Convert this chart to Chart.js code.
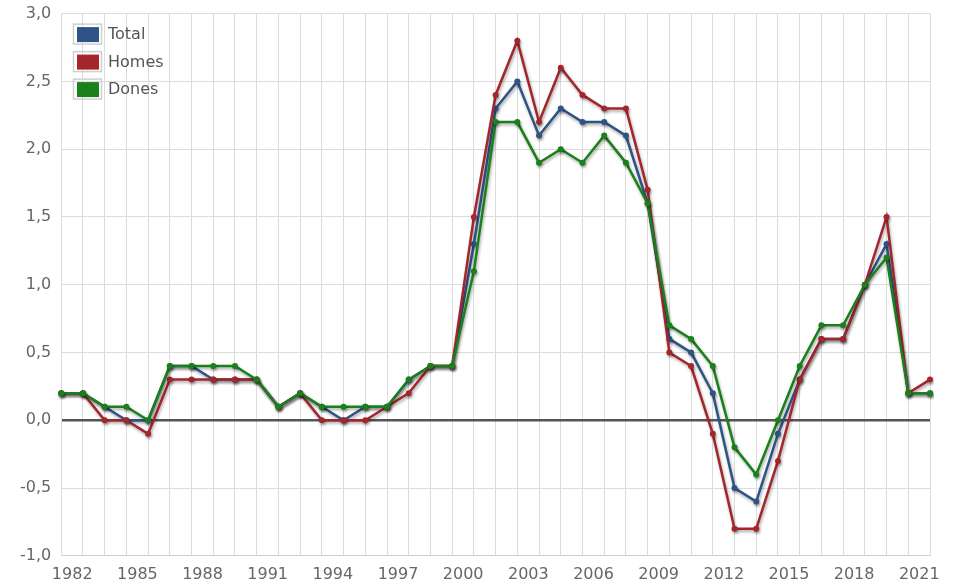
<!DOCTYPE html>
<html>
<head>
<meta charset="utf-8">
<script src="https://cdn.jsdelivr.net/npm/chart.js@4/dist/chart.umd.min.js"></script>
<style>
  html, body { margin: 0; padding: 0; background: #fff; }
  #wrap { width: 959px; height: 584px; position: relative; overflow: hidden; }
  #myChart { position: absolute; left: 0; top: -6px; }
</style>
</head>
<body>
<div id="wrap"><canvas id="myChart" width="959" height="590"></canvas></div>
<script>
const years = [];
for (let y = 1982; y <= 2022; y++) years.push(String(y));

const seriesNames = ["Total", "Homes", "Dones"];
const seriesColors = ["#2e5487", "#a4262c", "#19801a"];

const total = [0.2, 0.2, 0.1, 0.0, 0.0, 0.4, 0.4, 0.3, 0.3, 0.3,
    0.1, 0.2, 0.1, 0.0, 0.1, 0.1, 0.3, 0.4, 0.4, 1.3,
    2.3, 2.5, 2.1, 2.3, 2.2, 2.2, 2.1, 1.6, 0.6, 0.5,
    0.2, -0.5, -0.6, -0.1, 0.3, 0.6, 0.6, 1.0, 1.3, 0.2, 0.2];

const homes = [0.2, 0.2, 0.0, 0.0, -0.1, 0.3, 0.3, 0.3, 0.3, 0.3,
    0.1, 0.2, 0.0, 0.0, 0.0, 0.1, 0.2, 0.4, 0.4, 1.5,
    2.4, 2.8, 2.2, 2.6, 2.4, 2.3, 2.3, 1.7, 0.5, 0.4,
    -0.1, -0.8, -0.8, -0.3, 0.3, 0.6, 0.6, 1.0, 1.5, 0.2, 0.3];

const dones = [0.2, 0.2, 0.1, 0.1, 0.0, 0.4, 0.4, 0.4, 0.4, 0.3,
    0.1, 0.2, 0.1, 0.1, 0.1, 0.1, 0.3, 0.4, 0.4, 1.1,
    2.2, 2.2, 1.9, 2.0, 1.9, 2.1, 1.9, 1.6, 0.7, 0.6,
    0.4, -0.2, -0.4, 0.0, 0.4, 0.7, 0.7, 1.0, 1.2, 0.2, 0.2];

const yMin = -1, yMax = 3, yStep = 0.5;

const FONT = "'DejaVu Sans', Verdana, sans-serif";

function makeSet(i, values, order) {
    return {
        label: seriesNames[i],
        data: values,
        borderColor: seriesColors[i],
        backgroundColor: seriesColors[i],
        pointBackgroundColor: seriesColors[i],
        pointBorderWidth: 0,
        pointRadius: 3,
        borderWidth: 2.5,
        tension: 0,
        fill: false,
        order: order
    };
}

// soft shadow under each line
const shadowPlugin = {
    id: "lineShadow",
    beforeDatasetDraw(chart) {
        const ctx = chart.ctx;
        ctx.save();
        ctx.shadowColor = "rgba(0,0,0,0.35)";
        ctx.shadowBlur = 3;
        ctx.shadowOffsetX = 1;
        ctx.shadowOffsetY = 2;
    },
    afterDatasetDraw(chart) {
        chart.ctx.restore();
    }
};

// legend drawn inside the plot, top-left of the chart area
const boxLegend = {
    id: "boxLegend",
    afterDraw(chart) {
        const ctx = chart.ctx;
        const top = chart.chartArea.top;
        ctx.save();
        ctx.font = "16px " + FONT;
        ctx.textBaseline = "middle";
        seriesNames.forEach((name, i) => {
            const cy = top + 20.5 + i * 27.5;
            ctx.strokeStyle = "#cfcfcf";
            ctx.lineWidth = 1.5;
            ctx.strokeRect(73.5, cy - 10, 28, 20);
            ctx.fillStyle = seriesColors[i];
            ctx.fillRect(77, cy - 7, 22, 15);
            ctx.fillStyle = "#555";
            ctx.fillText(name, 108, cy + 1);
        });
        ctx.restore();
    }
};

const data = {
    labels: years,
    datasets: [
        makeSet(0, total, 3),
        makeSet(1, homes, 2),
        makeSet(2, dones, 1)
    ]
};

const config = {
    type: "line",
    data: data,
    options: {
        responsive: false,
        animation: false,
        layout: { padding: { left: 10, right: 29, top: -2, bottom: -9 } },
        plugins: {
            legend: { display: false },
            tooltip: { enabled: false }
        },
        scales: {
            x: {
                offset: false,
                grid: { color: "#dcdcdc", lineWidth: 1, drawTicks: false },
                border: { color: "#cfcfcf" },
                ticks: {
                    autoSkip: false,
                    maxRotation: 0,
                    minRotation: 0,
                    labelOffset: 11,
                    padding: 9,
                    color: "#666",
                    font: { family: FONT, size: 16 },
                    callback: (v, i) => (i % 3 === 0 ? years[i] : "")
                }
            },
            y: {
                min: yMin,
                max: yMax,
                grid: {
                    drawTicks: false,
                    color: c => (c.tick && c.tick.value === 0 ? "#555" : "#dcdcdc"),
                    lineWidth: c => (c.tick && c.tick.value === 0 ? 2.5 : 1)
                },
                border: { color: "#dcdcdc" },
                ticks: {
                    stepSize: yStep,
                    padding: 10,
                    color: "#666",
                    font: { family: FONT, size: 16 },
                    callback: v => v.toFixed(1).replace(".", ",")
                }
            }
        }
    },
    plugins: [shadowPlugin, boxLegend]
};

const myChart = new Chart(document.getElementById("myChart"), config);
</script>
</body>
</html>
